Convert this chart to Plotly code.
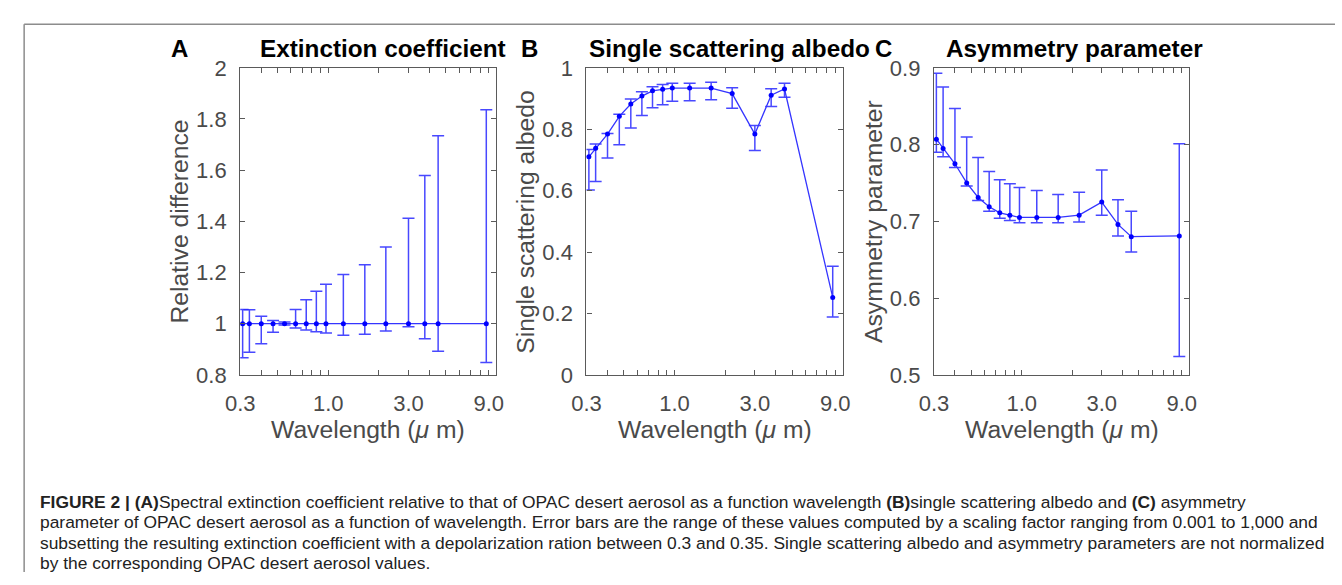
import plotly.graph_objects as go

W, H = 1342, 585

wavelength = [0.31, 0.34, 0.40, 0.47, 0.55, 0.64, 0.74, 0.85, 0.97, 1.23, 1.65, 2.2, 3.0, 3.75, 4.5, 8.7]

ext_val = [1.0] * 16
ext_upper = [1.055, 1.054, 1.029, 1.012, 1.006, 1.055, 1.093, 1.127, 1.154, 1.192, 1.23, 1.30, 1.412, 1.579, 1.734, 1.836]
ext_lower = [0.867, 0.888, 0.921, 0.966, 0.995, 0.983, 0.975, 0.968, 0.963, 0.955, 0.959, 0.971, 0.988, 0.941, 0.892, 0.848]

ssa_val = [0.710, 0.738, 0.784, 0.842, 0.882, 0.908, 0.925, 0.930, 0.934, 0.934, 0.934, 0.916, 0.784, 0.911, 0.931, 0.252]
ssa_upper = [0.734, 0.752, 0.786, 0.849, 0.898, 0.922, 0.938, 0.946, 0.950, 0.950, 0.953, 0.935, 0.812, 0.932, 0.950, 0.354]
ssa_lower = [0.602, 0.630, 0.706, 0.749, 0.804, 0.845, 0.870, 0.880, 0.891, 0.893, 0.896, 0.868, 0.731, 0.874, 0.904, 0.188]

asy_val = [0.807, 0.795, 0.775, 0.750, 0.731, 0.719, 0.711, 0.708, 0.705, 0.705, 0.705, 0.708, 0.725, 0.696, 0.680, 0.681]
asy_upper = [0.893, 0.875, 0.847, 0.810, 0.783, 0.765, 0.754, 0.749, 0.744, 0.740, 0.735, 0.738, 0.767, 0.728, 0.713, 0.801]
asy_lower = [0.790, 0.784, 0.770, 0.746, 0.727, 0.713, 0.704, 0.701, 0.698, 0.698, 0.698, 0.699, 0.708, 0.681, 0.660, 0.524]

x_tickvals = [0.3, 1, 3, 9]
x_ticktext = ["0.3", "1.0", "3.0", "9.0"]
x_minor = [0.4, 0.5, 0.6, 0.7, 0.8, 0.9, 2, 4, 5, 6, 7, 8, 10]

ext_ticks = [0.8, 1.0, 1.2, 1.4, 1.6, 1.8, 2.0]
ext_ticktext = ["0.8", "1", "1.2", "1.4", "1.6", "1.8", "2"]
ssa_ticks = [0, 0.2, 0.4, 0.6, 0.8, 1.0]
ssa_ticktext = ["0", "0.2", "0.4", "0.6", "0.8", "1"]
asy_ticks = [0.5, 0.6, 0.7, 0.8, 0.9]
asy_ticktext = ["0.5", "0.6", "0.7", "0.8", "0.9"]

panels = [
    dict(val=ext_val, up=ext_upper, lo=ext_lower, ticks=ext_ticks, tt=ext_ticktext, rng=[0.8, 2.0],
         px=(229, 489.5), letter="A", lx=167, title="Extinction coefficient", tx=374,
         ytitle="Relative difference", ytx=167),
    dict(val=ssa_val, up=ssa_upper, lo=ssa_lower, ticks=ssa_ticks, tt=ssa_ticktext, rng=[0, 1],
         px=(581, 841.7), letter="B", lx=523, title="Single scattering albedo", tx=726,
         ytitle="Single scattering albedo", ytx=519),
    dict(val=asy_val, up=asy_upper, lo=asy_lower, ticks=asy_ticks, tt=asy_ticktext, rng=[0.5, 0.9],
         px=(934.3, 1194), letter="C", lx=883, title="Asymmetry parameter", tx=1077,
         ytitle="Asymmetry parameter", ytx=873),
]

top_px, bot_px = 58.3, 379
ydom = [1 - bot_px / H, 1 - top_px / H]

fig = go.Figure()
annotations = []
font_main = "Liberation Sans, Arial, Helvetica, sans-serif"
gray = "#4a4a4a"
axcol = "#5a5a5a"

for i, p in enumerate(panels):
    n = "" if i == 0 else str(i + 1)
    xa, ya = "x" + n, "y" + n
    err_plus = [u - v for u, v in zip(p["up"], p["val"])]
    err_minus = [v - l for v, l in zip(p["val"], p["lo"])]
    fig.add_trace(go.Scatter(
        x=wavelength, y=p["val"], mode="lines+markers", xaxis=xa, yaxis=ya,
        line=dict(color="#3535ff", width=1.3),
        marker=dict(color="#0000ff", size=5),
        error_y=dict(type="data", array=err_plus, arrayminus=err_minus, symmetric=False,
                     color="rgba(40,40,255,0.85)", thickness=1.5, width=6),
        cliponaxis=False, showlegend=False, hoverinfo="skip"))
    xdom = [p["px"][0] / W, p["px"][1] / W]
    xaxis = dict(domain=xdom, type="log", range=[-0.5229, 1.0], anchor=ya,
                 tickmode="array", tickvals=x_tickvals, ticktext=x_ticktext,
                 ticks="inside", ticklen=5, tickcolor=axcol, tickwidth=1,
                 minor=dict(tickmode="array", tickvals=x_minor, ticks="inside", ticklen=5,
                            tickcolor=axcol, tickwidth=1, showgrid=False),
                 showline=True, linecolor=axcol, linewidth=1.3, mirror="ticks",
                 showgrid=False, zeroline=False, ticklabelstandoff=9,
                 tickfont=dict(family=font_main, size=22, color=gray))
    yaxis = dict(domain=ydom, range=p["rng"], anchor=xa,
                 tickmode="array", tickvals=p["ticks"], ticktext=p["tt"],
                 ticks="inside", ticklen=5, tickcolor=axcol, tickwidth=1,
                 showline=True, linecolor=axcol, linewidth=1.3, mirror="ticks",
                 showgrid=False, zeroline=False, ticklabelstandoff=8,
                 tickfont=dict(family=font_main, size=22, color=gray))
    fig.update_layout(**{"xaxis" + n: xaxis, "yaxis" + n: yaxis})

    annotations.append(dict(text="<b>" + p["letter"] + "</b>", x=p["lx"] / W, y=1 - 38.5 / H,
                            xref="paper", yref="paper", showarrow=False, xanchor="center", yanchor="middle",
                            font=dict(family=font_main, size=24, color="black")))
    annotations.append(dict(text="<b>" + p["title"] + "</b>", x=p["tx"] / W, y=1 - 38.5 / H,
                            xref="paper", yref="paper", showarrow=False, xanchor="center", yanchor="middle",
                            font=dict(family=font_main, size=24.3, color="black")))
    cx = (p["px"][0] + p["px"][1]) / 2
    annotations.append(dict(text="Wavelength (<i>\u03bc</i> m)", x=cx / W, y=1 - 436 / H,
                            xref="paper", yref="paper", showarrow=False, xanchor="center", yanchor="middle",
                            font=dict(family=font_main, size=24.7, color=gray)))
    annotations.append(dict(text=p["ytitle"], x=p["ytx"] / W, y=1 - ((top_px + bot_px) / 2) / H,
                            xref="paper", yref="paper", showarrow=False, xanchor="center", yanchor="middle",
                            textangle=-90,
                            font=dict(family=font_main, size=24.7, color=gray)))

caption_lines = [
    "<b>FIGURE 2 | (A)</b>Spectral extinction coefficient relative to that of OPAC desert aerosol as a function wavelength <b>(B)</b>single scattering albedo and <b>(C)</b> asymmetry",
    "parameter of OPAC desert aerosol as a function of wavelength. Error bars are the range of these values computed by a scaling factor ranging from 0.001 to 1,000 and",
    "subsetting the resulting extinction coefficient with a depolarization ration between 0.3 and 0.35. Single scattering albedo and asymmetry parameters are not normalized",
    "by the corresponding OPAC desert aerosol values.",
]
caption_y = [511.5, 533, 554.5, 576]
for line, cy in zip(caption_lines, caption_y):
    annotations.append(dict(text=line, x=23 / W, y=1 - cy / H, xref="paper", yref="paper",
                            showarrow=False, xanchor="left", yanchor="middle",
                            font=dict(family=font_main, size=17.4, color="#222222")))

shapes = [
    dict(type="line", xref="paper", yref="paper", x0=9.3 / W, x1=1.0, y0=1 - 12.7 / H, y1=1 - 12.7 / H,
         line=dict(color="#8c8c8c", width=1.5)),
    dict(type="line", xref="paper", yref="paper", x0=9.3 / W, x1=9.3 / W, y0=1 - 12.7 / H, y1=0,
         line=dict(color="#8c8c8c", width=1.5)),
]

fig.update_layout(width=W, height=H, margin=dict(l=0, r=0, t=0, b=0),
                  paper_bgcolor="white", plot_bgcolor="white",
                  annotations=annotations, shapes=shapes, showlegend=False)

fig.write_html("out.html")
